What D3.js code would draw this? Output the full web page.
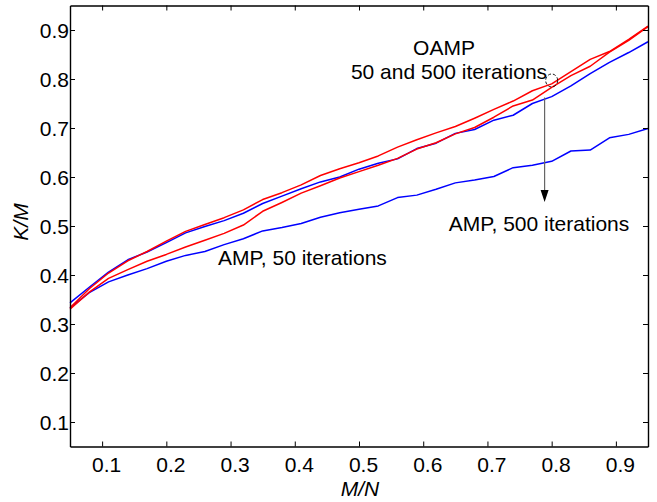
<!DOCTYPE html>
<html>
<head>
<meta charset="utf-8">
<script src="https://cdn.jsdelivr.net/npm/d3@7"></script>
<style>
  html, body { margin: 0; padding: 0; background: #fff; }
  svg { display: block; font-family: "Liberation Sans", Arial, Helvetica, sans-serif; }
</style>
</head>
<body>
<svg id="chart" width="657" height="502"></svg>
<script>
// Measurement ratio M/N sampled every 0.03
const ratioMN = [0.05, 0.08, 0.11, 0.14, 0.17, 0.20, 0.23, 0.26, 0.29, 0.32, 0.35,
                 0.38, 0.41, 0.44, 0.47, 0.50, 0.53, 0.56, 0.59, 0.62, 0.65, 0.68,
                 0.71, 0.74, 0.77, 0.80, 0.83, 0.86, 0.89, 0.92, 0.95];

// Phase transition K/M for each algorithm / iteration budget
const oampA = [0.333, 0.372, 0.404, 0.429, 0.448, 0.469, 0.489, 0.503, 0.517, 0.533, 0.554,
               0.568, 0.584, 0.603, 0.617, 0.629, 0.643, 0.661, 0.676, 0.690, 0.703, 0.720,
               0.738, 0.755, 0.776, 0.790, 0.815, 0.840, 0.856, 0.881, 0.908];
const oampB = [0.330, 0.365, 0.393, 0.411, 0.428, 0.442, 0.457, 0.471, 0.485, 0.502, 0.530,
               0.548, 0.567, 0.582, 0.598, 0.611, 0.624, 0.638, 0.657, 0.670, 0.688, 0.701,
               0.722, 0.745, 0.757, 0.783, 0.807, 0.826, 0.855, 0.879, 0.907];
const amp500 = [0.343, 0.375, 0.406, 0.431, 0.447, 0.466, 0.486, 0.499, 0.511, 0.526, 0.546,
                0.561, 0.576, 0.590, 0.600, 0.616, 0.628, 0.637, 0.658, 0.669, 0.689, 0.697,
                0.716, 0.726, 0.750, 0.764, 0.786, 0.811, 0.834, 0.854, 0.876];
const amp50 = [0.333, 0.364, 0.386, 0.400, 0.413, 0.428, 0.440, 0.448, 0.462, 0.474, 0.490,
               0.497, 0.505, 0.518, 0.527, 0.534, 0.541, 0.558, 0.563, 0.575, 0.588, 0.594,
               0.601, 0.619, 0.624, 0.632, 0.653, 0.655, 0.680, 0.687, 0.699];

const tickValues = [0.1, 0.2, 0.3, 0.4, 0.5, 0.6, 0.7, 0.8, 0.9];
const tickLabels = ["0.1", "0.2", "0.3", "0.4", "0.5", "0.6", "0.7", "0.8", "0.9"];

const series = [
  { values: amp50,  color: "#0000ff" },
  { values: amp500, color: "#0000ff" },
  { values: oampB,  color: "#ff0000" },
  { values: oampA,  color: "#ff0000" }
];

const svg = d3.select("#chart");
const plotLeft = 70, plotRight = 648, plotTop = 5.5, plotBottom = 446.5;

const x = d3.scaleLinear().domain([0.05, 0.95]).range([plotLeft, plotRight]);
const y = d3.scaleLinear().domain([0.05, 0.95]).range([plotBottom, plotTop]);

const fontSize = 21;

// Curves
const line = d3.line()
  .x((d, i) => x(ratioMN[i]))
  .y(d => y(d));

svg.append("g")
  .selectAll("path")
  .data(series)
  .join("path")
  .attr("d", d => line(d.values))
  .attr("fill", "none")
  .attr("stroke", d => d.color)
  .attr("stroke-width", 1.5)
  .attr("stroke-linejoin", "round");

// Axes with inward ticks on all four sides
const tickFmt = (d, i) => tickLabels[i];
const axisBottom = d3.axisBottom(x).tickValues(tickValues).tickSizeInner(-5).tickSizeOuter(0).tickFormat(tickFmt);
const axisTop = d3.axisTop(x).tickValues(tickValues).tickSizeInner(-5).tickSizeOuter(0).tickFormat("");
const axisLeft = d3.axisLeft(y).tickValues(tickValues).tickSizeInner(-5).tickSizeOuter(0).tickFormat(tickFmt);
const axisRight = d3.axisRight(y).tickValues(tickValues).tickSizeInner(-5).tickSizeOuter(0).tickFormat("");

function style(g) {
  g.select(".domain").attr("stroke", "#000").attr("stroke-width", 1.4);
  g.selectAll(".tick line").attr("stroke", "#000").attr("stroke-width", 1);
  g.selectAll(".tick text").attr("fill", "#000").attr("font-size", fontSize)
    .attr("font-family", "'Liberation Sans', Arial, sans-serif");
}

svg.append("g").attr("transform", `translate(0,${plotBottom})`).call(axisBottom).call(style)
  .call(g => g.selectAll(".tick text").attr("y", 0).attr("dy", 0)
    .attr("transform", "translate(4,25.5)"));
svg.append("g").attr("transform", `translate(0,${plotTop})`).call(axisTop).call(style);
svg.append("g").attr("transform", `translate(${plotLeft},0)`).call(axisLeft).call(style)
  .call(g => g.selectAll(".tick text").attr("x", -1).attr("dy", "0.36em"));
svg.append("g").attr("transform", `translate(${plotRight},0)`).call(axisRight).call(style);

// Axis titles
svg.append("text")
  .attr("x", 360).attr("y", 496)
  .attr("text-anchor", "middle")
  .attr("font-size", fontSize).attr("font-style", "italic")
  .text("M/N");
svg.append("text")
  .attr("transform", "translate(28,222) rotate(-90)")
  .attr("text-anchor", "middle")
  .attr("font-size", fontSize).attr("font-style", "italic")
  .text("K/M");

// Annotations
const notes = [
  { text: "OAMP", x: 444, y: 55, anchor: "middle" },
  { text: "50 and 500 iterations", x: 449, y: 79, anchor: "middle" },
  { text: "AMP, 500 iterations", x: 539, y: 231, anchor: "middle" },
  { text: "AMP, 50 iterations", x: 218, y: 265, anchor: "start" }
];
svg.append("g").selectAll("text")
  .data(notes)
  .join("text")
  .attr("x", d => d.x).attr("y", d => d.y)
  .attr("text-anchor", d => d.anchor)
  .attr("font-size", fontSize)
  .attr("fill", "#000")
  .text(d => d.text);

// Dashed ellipse grouping the OAMP curves
svg.append("ellipse")
  .attr("cx", x(0.80)).attr("cy", y(0.797))
  .attr("rx", 6).attr("ry", 6.5)
  .attr("fill", "none")
  .attr("stroke", "#000")
  .attr("stroke-width", 0.9)
  .attr("stroke-dasharray", "3,2");

// Arrow from the AMP 500-iteration curve down to its label
const arrowX = x(0.789);
svg.append("line")
  .attr("x1", arrowX).attr("x2", arrowX)
  .attr("y1", y(0.762)).attr("y2", 192)
  .attr("stroke", "#666").attr("stroke-width", 1.2);
svg.append("path")
  .attr("d", `M${arrowX - 4},190 L${arrowX + 4},190 L${arrowX},202 Z`)
  .attr("fill", "#000");
</script>
</body>
</html>
